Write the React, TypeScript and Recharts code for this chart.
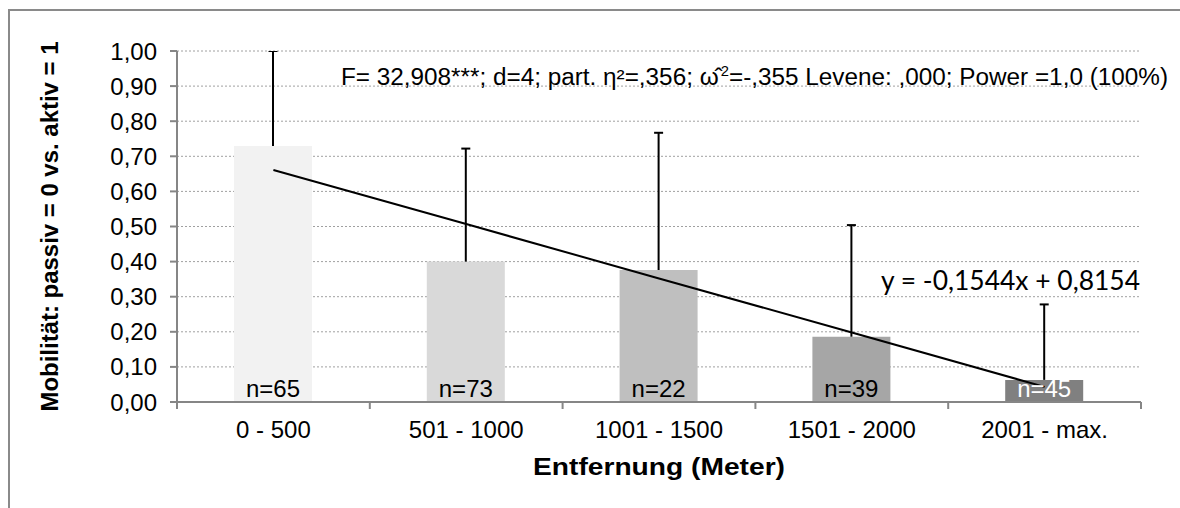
import React from 'react';
import {
  ComposedChart,
  Bar,
  Line,
  XAxis,
  YAxis,
  CartesianGrid,
  Cell,
  LabelList,
  Label,
} from 'recharts';

const categories = ['0 - 500', '501 - 1000', '1001 - 1500', '1501 - 2000', '2001 - max.'];
const means = [0.729, 0.4, 0.376, 0.186, 0.063];
const errorsUp = [0.447, 0.322, 0.391, 0.318, 0.215];
const sampleSizes = [65, 73, 22, 39, 45];
const trendValues = [0.661, 0.507, 0.352, 0.198, 0.043];
const yTicks = [0, 0.1, 0.2, 0.3, 0.4, 0.5, 0.6, 0.7, 0.8, 0.9, 1.0];

const xTitle = 'Entfernung (Meter)';
const yTitle = 'Mobilität: passiv = 0 vs. aktiv = 1';
const equationText = 'y = -0,1544x + 0,8154';

const BAR_COLORS = ['#f2f2f2', '#d9d9d9', '#bfbfbf', '#a6a6a6', '#808080'];
const LABEL_COLORS = ['#000', '#000', '#000', '#000', '#fff'];
const AXIS_COLOR = '#868686';
const FONT = '"Liberation Sans", Arial, sans-serif';
const FS = 24;

const data = categories.map((name, i) => ({
  name,
  mean: means[i],
  err: errorsUp[i],
  n: `n=${sampleSizes[i]}`,
  trend: trendValues[i],
}));

const ErrorShape = (props: any) => {
  const { x, y, width, height } = props;
  if (x == null || y == null) return null;
  const cx = x + width / 2;
  return (
    <g>
      <line x1={cx} x2={cx} y1={y + height} y2={y} stroke="#000" strokeWidth={2} />
      <line x1={cx - 4.5} x2={cx + 4.5} y1={y} y2={y} stroke="#000" strokeWidth={2} />
    </g>
  );
};

const NLabel = (props: any) => {
  const vb = props.viewBox || props;
  const { x, y, width, height } = vb;
  const idx = props.index != null ? props.index : sampleSizes.findIndex((s) => `n=${s}` === props.value);
  return (
    <text
      x={x + width / 2}
      y={y + height - 5}
      textAnchor="middle"
      fill={LABEL_COLORS[idx] || '#000'}
      fontSize={FS}
      fontFamily={FONT}
    >
      {props.value}
    </text>
  );
};

const TICK_SIZE = 7;
const TICK_MARGIN = 12;

const XTick = (props: any) => {
  const { x, y, payload, index, visibleTicksCount, width } = props;
  const axisY = y - TICK_SIZE - TICK_MARGIN;
  const band = width && visibleTicksCount ? width / visibleTicksCount : 0;
  return (
    <g>
      {band > 0 && (
        <line x1={x - band / 2} x2={x - band / 2} y1={axisY} y2={axisY + TICK_SIZE} stroke={AXIS_COLOR} strokeWidth={2} />
      )}
      {band > 0 && index === visibleTicksCount - 1 && (
        <line x1={x + band / 2} x2={x + band / 2} y1={axisY} y2={axisY + TICK_SIZE} stroke={AXIS_COLOR} strokeWidth={2} />
      )}
      <text x={x} y={y} dy="0.71em" textAnchor="middle" fill="#000" fontSize={FS} fontFamily={FONT}>
        {payload.value}
      </text>
    </g>
  );
};

const YTitle = (props: any) => {
  const vb = props.viewBox;
  const cx = vb.x + 48;
  const cy = vb.y + vb.height / 2;
  return (
    <text
      x={cx}
      y={cy}
      transform={`rotate(-90, ${cx}, ${cy})`}
      textAnchor="middle"
      fontSize={FS}
      fontWeight="bold"
      fontFamily={FONT}
      fill="#000"
      textLength={370}
      lengthAdjust="spacingAndGlyphs"
    >
      {yTitle}
    </text>
  );
};

const XTitle = (props: any) => {
  const vb = props.viewBox;
  return (
    <text
      x={vb.x + vb.width / 2}
      y={vb.y + 73}
      textAnchor="middle"
      fontSize={FS}
      fontWeight="bold"
      fontFamily={FONT}
      fill="#000"
      textLength={252}
      lengthAdjust="spacingAndGlyphs"
    >
      {xTitle}
    </text>
  );
};

const Annotation = (props: any) => {
  const vb = props.viewBox;
  return (
    <text
      x={vb.x + vb.width + 164}
      y={vb.y + 34}
      fontSize={23}
      fontFamily={FONT}
      fill="#000"
      textLength={827}
      lengthAdjust="spacingAndGlyphs"
    >
      {'F= 32,908***; d=4; part. η²=,356; ω\u0302'}
      <tspan fontSize={14} dx={2} dy={-9}>2</tspan>
      <tspan dy={9}>{'=-,355 Levene: ,000; Power =1,0 (100%)'}</tspan>
    </text>
  );
};

const Equation = (props: any) => {
  const vb = props.viewBox;
  return (
    <text
      x={vb.x + vb.width + 704}
      y={vb.y + 239}
      fontSize={26}
      fontFamily="Lato, 'Open Sans', sans-serif"
      fill="#000"
      textLength={259}
      lengthAdjust="spacingAndGlyphs"
    >
      {equationText}
    </text>
  );
};

export default function App() {
  return (
    <div style={{ position: 'absolute', left: 0, top: 0, width: 1180, height: 508, overflow: 'hidden', background: '#fff' }}>
      <div
        style={{
          position: 'absolute',
          left: 8,
          top: 9,
          width: 1300,
          height: 700,
          border: '2px solid #8a8a8a',
          boxSizing: 'border-box',
        }}
      />
      <div style={{ position: 'absolute', left: 0, top: 0 }}>
        <ComposedChart
          width={1180}
          height={508}
          data={data}
          margin={{ top: 51, right: 39, left: 10, bottom: 0 }}
          style={{ fontFamily: FONT }}
        >
          <CartesianGrid vertical={false} stroke="#a0a0a0" strokeDasharray="2 2" strokeWidth={1} />
          <XAxis
            dataKey="name"
            height={106}
            tickSize={TICK_SIZE}
            tickMargin={TICK_MARGIN}
            tickLine={false}
            axisLine={{ stroke: AXIS_COLOR, strokeWidth: 2 }}
            tick={<XTick />}
            interval={0}
          >
            <Label content={<XTitle />} />
          </XAxis>
          <YAxis
            width={167}
            domain={[0, 1]}
            ticks={yTicks}
            allowDataOverflow
            tickFormatter={(v: number) => v.toFixed(2).replace('.', ',')}
            tick={{ fontSize: FS, fill: '#000', fontFamily: FONT }}
            tickSize={TICK_SIZE}
            tickMargin={13}
            tickLine={{ stroke: AXIS_COLOR, strokeWidth: 2 }}
            axisLine={{ stroke: AXIS_COLOR, strokeWidth: 2 }}
          >
            <Label content={<YTitle />} />
            <Label content={<Annotation />} />
            <Label content={<Equation />} />
          </YAxis>
          <Bar dataKey="mean" stackId="s" barSize={78} isAnimationActive={false}>
            {data.map((_, i) => (
              <Cell key={i} fill={BAR_COLORS[i]} />
            ))}
            <LabelList dataKey="n" content={<NLabel />} />
          </Bar>
          <Bar dataKey="err" stackId="s" barSize={78} shape={<ErrorShape />} isAnimationActive={false} />
          <Line
            dataKey="trend"
            stroke="#000"
            strokeWidth={2}
            dot={false}
            activeDot={false}
            isAnimationActive={false}
          />
        </ComposedChart>
      </div>
    </div>
  );
}
